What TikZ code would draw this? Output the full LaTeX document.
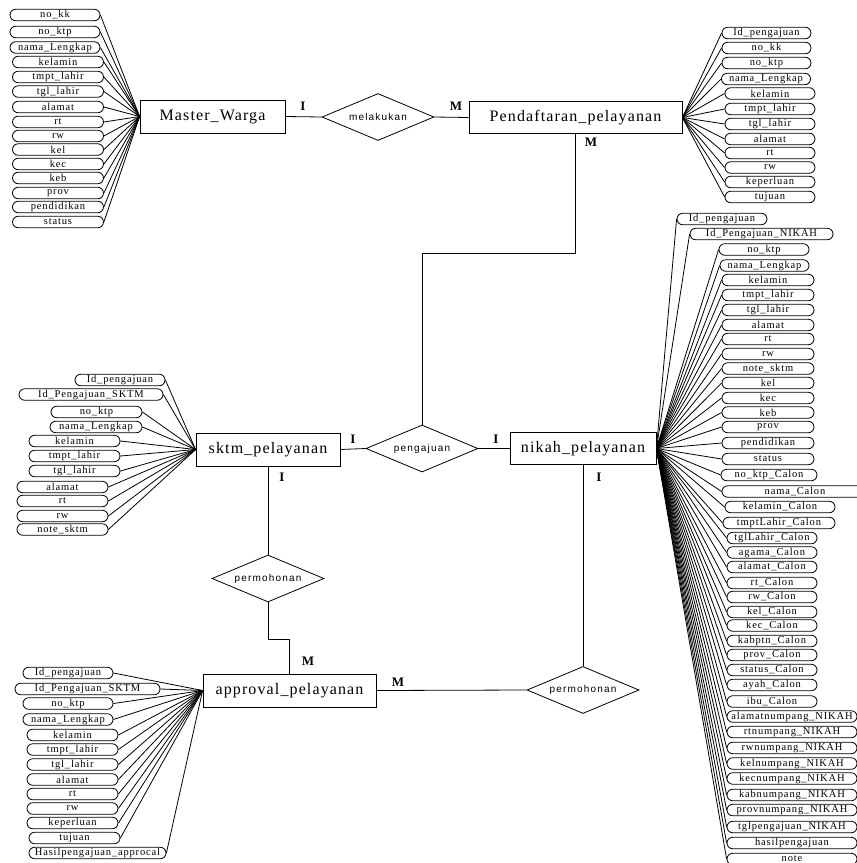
\documentclass[tikz,border=0pt]{standalone}
\usepackage{fontspec}
\usetikzlibrary{shapes.geometric}
\newfontfamily\attrfont[LetterSpace=8]{Liberation Serif}
\newfontfamily\entfont[LetterSpace=7]{Liberation Serif}
\newfontfamily\relfont[LetterSpace=12]{Liberation Sans}
\newfontfamily\cardfont{Liberation Serif}
\tikzset{
  attr/.style={draw, line width=0.8pt, rounded corners=5.75pt, minimum height=11.5pt, inner sep=0pt,
    font=\attrfont\fontsize{10.5}{11}\selectfont},
  ent/.style={draw, line width=0.8pt, inner sep=0pt, font=\entfont\fontsize{16}{18}\selectfont},
  rel/.style={draw, diamond, aspect=2.35, line width=0.8pt, inner sep=0pt, minimum width=112pt, minimum height=47pt,
    font=\relfont\fontsize{10}{12}\selectfont},
  card/.style={inner sep=0pt, font=\cardfont\bfseries\fontsize{13}{14}\selectfont},
  conn/.style={line width=0.8pt},
}
\begin{document}
\begin{tikzpicture}[x=1pt,y=-1pt]
\clip (0,0) rectangle (857,863);
\fill[white] (0,0) rectangle (857,863);

% entities
\node[ent, minimum width=145pt, minimum height=33pt] (mw) at (212.5,116.5) {Master\_Warga};
\node[ent, minimum width=213pt, minimum height=32pt] (pd) at (575.5,117.5) {Pendaftaran\_pelayanan};
\node[ent, minimum width=144pt, minimum height=33pt] (sk) at (268,449.5) {sktm\_pelayanan};
\node[ent, minimum width=146pt, minimum height=32pt] (nk) at (583,448.5) {nikah\_pelayanan};
\node[ent, minimum width=173pt, minimum height=33pt] (ap) at (289.5,690.5) {approval\_pelayanan};

% relationships
\node[rel] (mel) at (378,117) {melakukan};
\node[rel] (peng) at (422,448.5) {pengajuan};
\node[rel] (pm1) at (268,578.5) {permohonan};
\node[rel] (pm2) at (583,690) {permohonan};

% connectors
\draw[conn] (mw.east) -- (mel.west);
\draw[conn] (mel.east) -- (pd.west);
\draw[conn] (pd.south) -- (pd.south |- 0,253) -| (peng.north);
\draw[conn] (sk.east) -- (peng.west);
\draw[conn] (peng.east) -- (nk.west);
\draw[conn] (sk.south) -- (pm1.north);
\draw[conn] (pm1.south) -- ++(0,37) -| (ap.north);
\draw[conn] (ap.east) -- (pm2.west);
\draw[conn] (nk.south) -- (pm2.north);

% cardinalities
\node[card] (c1) at (303,106) {I};
\node[card] (c2) at (456,106) {M};
\node[card] (c3) at (591,142) {M};
\node[card] (c4) at (353,439) {I};
\node[card] (c5) at (496,439) {I};
\node[card] (c6) at (282,477) {I};
\node[card] (c7) at (599,477) {I};
\node[card] (c8) at (308,661) {M};
\node[card] (c9) at (398,682) {M};

% Master_Warga attributes
\foreach \cx/\w/\y/\t [count=\i] in {
  55/90/15/no\_kk, 55/90/32/no\_ktp, 55/90/47.5/nama\_Lengkap, 58/91/62/kelamin,
  58/91/77/tmpt\_lahir, 58/91/91.5/tgl\_lahir, 58/91/107/alamat, 58/91/122/rt,
  58/91/136/rw, 58/91/149.5/kel, 58/91/164/kec, 58/91/178/keb, 58/91/193/prov,
  58/91/207/pendidikan, 58/91/222/status}{
  \node[attr, minimum width=\w pt] (mwa\i) at (\cx,\y) {\t};
  \draw[conn] (mwa\i.east) -- (mw.west);
}

% Pendaftaran attributes
\foreach \cx/\w/\y/\t [count=\i] in {
  766.5/89/33/Id\_pengajuan, 766.5/89/48/no\_kk, 766.5/89/63/no\_ktp, 766/89/79/nama\_Lengkap,
  770/90/93.5/kelamin, 770/90/109/tmpt\_lahir, 770/90/124/tgl\_lahir, 770/90/139/alamat,
  770/90/153/rt, 770/90/167.5/rw, 770/90/182/keperluan, 770/90/197/tujuan}{
  \node[attr, minimum width=\w pt] (pda\i) at (\cx,\y) {\t};
  \draw[conn] (pda\i.west) -- (pd.east);
}

% sktm attributes
\foreach \cx/\w/\y/\t [count=\i] in {
  120/90/380/Id\_pengajuan, 91/144/394.5/Id\_Pengajuan\_SKTM, 96.5/91/412/no\_ktp,
  96/92/427/nama\_Lengkap, 74.5/91/441/kelamin, 74.5/91/456/tmpt\_lahir,
  74.5/91/471/tgl\_lahir, 62.5/91/487/alamat, 62.5/91/501/rt, 62.5/91/516/rw,
  62.5/91/529.5/note\_sktm}{
  \node[attr, minimum width=\w pt] (ska\i) at (\cx,\y) {\t};
  \draw[conn] (ska\i.east) -- (sk.west);
}

% approval attributes
\foreach \cx/\w/\y/\t [count=\i] in {
  68/90/673/Id\_pengajuan, 87.5/145/689/Id\_Pengajuan\_SKTM, 68/90/703.5/no\_ktp,
  68/90/719.5/nama\_Lengkap, 72.5/91/735/kelamin, 72.5/91/749.5/tmpt\_lahir,
  72.5/91/764.5/tgl\_lahir, 72.5/91/779.5/alamat, 72.5/91/794/rt, 72.5/91/808.5/rw,
  72.5/91/823/keperluan, 74.5/91/838/tujuan, 97.5/137/853/Hasilpengajuan\_approcal}{
  \node[attr, minimum width=\w pt] (apa\i) at (\cx,\y) {\t};
  \draw[conn] (apa\i.east) -- (ap.west);
}

% nikah attributes
\foreach \cx/\w/\y/\t [count=\i] in {
  722/90/219/Id\_pengajuan, 761.5/143/234/Id\_Pengajuan\_NIKAH, 764/90/249.5/no\_ktp,
  764.5/89/265.5/nama\_Lengkap, 768/92/280/kelamin, 768/92/295/tmpt\_lahir,
  768/92/310/tgl\_lahir, 768/92/325/alamat, 768/92/339/rt, 768/92/354/rw,
  768/92/368.5/note\_sktm, 768/92/383/kel, 768/92/398/kec, 768/92/412.5/keb,
  768/92/427/prov, 768/92/443/pendidikan, 768/92/459/status,
  769/96/475/no\_ktp\_Calon, 795/146/491.5/nama\_Calon, 780/110/507/kelamin\_Calon,
  779/112/523/tmptLahir\_Calon, 772/90/538/tglLahir\_Calon, 772/90/552.5/agama\_Calon,
  772/90/567/alamat\_Calon, 772/90/583/rt\_Calon, 772/90/597/rw\_Calon,
  772/90/612/kel\_Calon, 772/90/625.5/kec\_Calon, 772/90/641/kabptn\_Calon,
  772/90/655/prov\_Calon, 772/90/670/status\_Calon, 772/90/685/ayah\_Calon,
  772/90/701.5/ibu\_Calon, 792/130/716.5/alamatnumpang\_NIKAH,
  792/130/732/rtnumpang\_NIKAH, 792/130/748/rwnumpang\_NIKAH, 792/130/763.5/kelnumpang\_NIKAH,
  792/130/778.5/kecnumpang\_NIKAH, 792/130/795/kabnumpang\_NIKAH, 792/130/810/provnumpang\_NIKAH,
  792/130/827/tglpengajuan\_NIKAH, 792/130/843/hasilpengajuan, 792/130/859/note}{
  \node[attr, minimum width=\w pt] (nka\i) at (\cx,\y) {\t};
  \draw[conn] (nka\i.west) -- (nk.east);
}
\end{tikzpicture}
\end{document}
